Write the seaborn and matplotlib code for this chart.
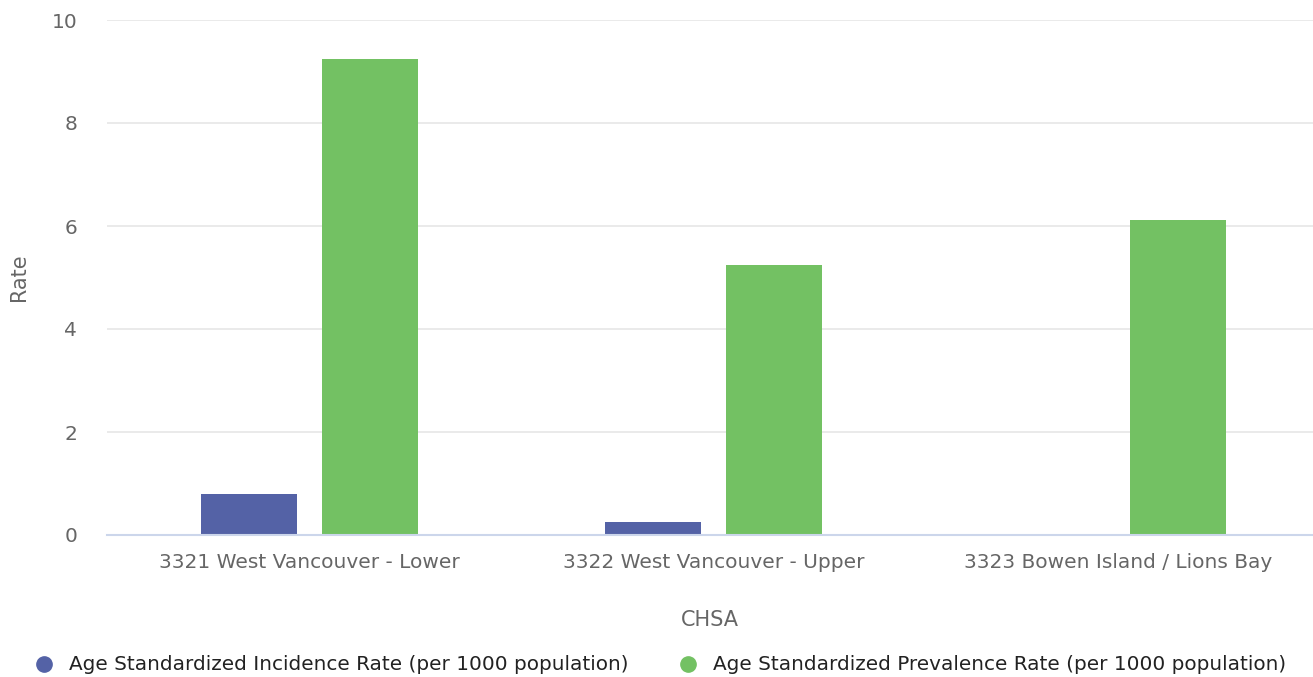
import matplotlib
matplotlib.use("Agg")
import matplotlib.pyplot as plt
from matplotlib.lines import Line2D
import seaborn as sns
import pandas as pd

categories = ["3321 West Vancouver - Lower",
              "3322 West Vancouver - Upper",
              "3323 Bowen Island / Lions Bay"]
series_names = ["Age Standardized Incidence Rate (per 1000 population)",
                "Age Standardized Prevalence Rate (per 1000 population)"]
incidence = [0.80, 0.25, 0.0]
prevalence = [9.24, 5.24, 6.11]
y_ticks = [0, 2, 4, 6, 8, 10]

colors = ["#5462a6", "#73c163"]

df = pd.DataFrame({
    "CHSA": categories * 2,
    "Series": [series_names[0]] * 3 + [series_names[1]] * 3,
    "Rate": incidence + prevalence,
})

sns.set_theme(style="white")
plt.rcParams["font.family"] = ["DejaVu Sans"]

W, H = 1313, 677
fig = plt.figure(figsize=(W / 100, H / 100), dpi=100)
ax = fig.add_axes([107 / W, 1 - 535 / H, (1313 - 107) / W, (535 - 20) / H])

sns.barplot(data=df, x="CHSA", y="Rate", hue="Series", order=categories,
            hue_order=series_names, palette=colors, width=0.599, gap=0.207,
            saturation=1, legend=False, ax=ax, linewidth=0)

ax.set_xlim(-0.5, -0.5 + 1206 / 404.3)
ax.set_ylim(0, 10)
ax.set_yticks(y_ticks)
ax.set_yticklabels([str(t) for t in y_ticks])
ax.grid(axis="y", color="#e6e6e6", linewidth=1.2)
ax.set_axisbelow(True)
for side in ["top", "right", "left"]:
    ax.spines[side].set_visible(False)
ax.spines["bottom"].set_color("#ccd6eb")
ax.spines["bottom"].set_linewidth(1.5)
ax.tick_params(axis="both", length=0, colors="#666666", labelsize=14.5)
ax.tick_params(axis="x", pad=13)
ax.tick_params(axis="y", pad=21.5)

ax.set_xlabel("CHSA", color="#666666", fontsize=15)
ax.set_ylabel("Rate", color="#666666", fontsize=15)
ax.xaxis.set_label_coords(0.5, -(610 - 535) / 515)
ax.yaxis.set_label_coords((29 - 107) / 1206, 0.5)

handles = [Line2D([], [], marker="o", linestyle="none", markersize=11,
                  markerfacecolor=c, markeredgecolor=c) for c in colors]
fig.legend(handles, series_names, loc="center", bbox_to_anchor=(660 / W, 1 - 665 / H),
           ncol=2, frameon=False, fontsize=14.4, handlelength=1.0,
           handletextpad=0.75, columnspacing=2.45, labelcolor="#222222")

fig.savefig("out.png", dpi=100, facecolor="white")
